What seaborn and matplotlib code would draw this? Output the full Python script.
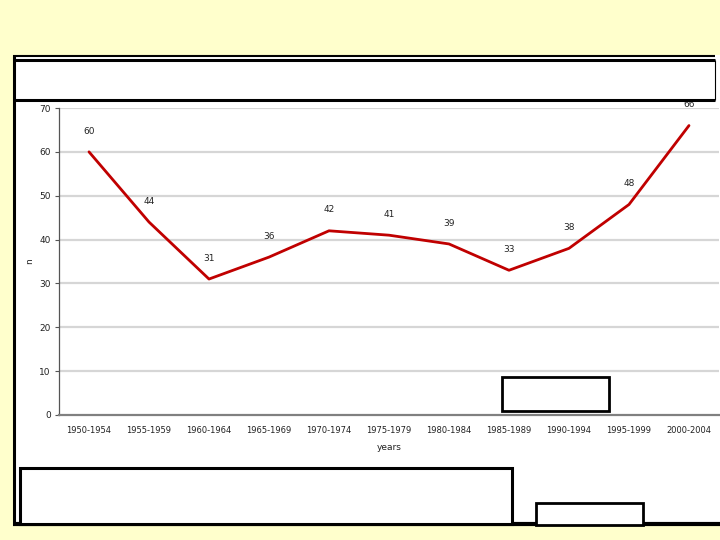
import matplotlib
matplotlib.use("Agg")
import matplotlib.pyplot as plt
from matplotlib.patches import Rectangle
from matplotlib.lines import Line2D
import seaborn as sns
import pandas as pd

periods = ["1950-1954", "1955-1959", "1960-1964", "1965-1969", "1970-1974",
           "1975-1979", "1980-1984", "1985-1989", "1990-1994", "1995-1999",
           "2000-2004"]
values = [60, 44, 31, 36, 42, 41, 39, 33, 38, 48, 66]
y_ticks = [0, 10, 20, 30, 40, 50, 60, 70]

sns.set_style("white")
plt.rcParams['font.family'] = ['DejaVu Sans']

W, H = 720, 540
fig = plt.figure(figsize=(7.2, 5.4), dpi=100, facecolor="#FFFFCC")

def fx(x):
    return x / W

def fy(y):
    return 1 - y / H

def rect(x0, y0, x1, y1, lw=2.0, fc="white", ec="black", z=1):
    fig.add_artist(Rectangle((fx(x0), fy(y1)), fx(x1) - fx(x0), fy(y0) - fy(y1),
                             transform=fig.transFigure, facecolor=fc,
                             edgecolor=ec, linewidth=lw, zorder=z))

def hline(x0, x1, y, lw=2.0, z=5):
    fig.add_artist(Line2D([fx(x0), fx(x1)], [fy(y), fy(y)], transform=fig.transFigure,
                          color="black", linewidth=lw, zorder=z,
                          solid_capstyle="butt"))

def vline(x, y0, y1, lw=2.0, z=5):
    fig.add_artist(Line2D([fx(x), fx(x)], [fy(y0), fy(y1)], transform=fig.transFigure,
                          color="black", linewidth=lw, zorder=z,
                          solid_capstyle="butt"))

# white panel
rect(13, 55, 722, 525, lw=0, fc="white", ec="none", z=0)
hline(12.5, 715, 55.5, lw=1.5)
hline(12.5, 715, 60, lw=2.2)
hline(12.5, 715, 100, lw=2.2)
vline(13.5, 55, 525, lw=2.2)
vline(715, 60, 100, lw=0.8)
hline(12.5, 722, 524, lw=3)

ax = fig.add_axes([fx(59), fy(415), fx(719) - fx(59), fy(108) - fy(415)])
ax.set_facecolor("none")
df = pd.DataFrame({"years": periods, "n": values})
sns.lineplot(data=df, x="years", y="n", ax=ax, color="#C00000", linewidth=2.0,
             sort=False, zorder=3)
ax.set_xlim(-0.5, len(periods) - 0.5)
ax.set_ylim(0, 70)
ax.set_yticks(y_ticks)
for t in y_ticks[1:]:
    ax.axhline(t, color="#D6D6D6", linewidth=1.6, zorder=1)

for i, v in enumerate(values):
    ax.annotate(str(v), (i, v), xytext=(0, 15), textcoords="offset points",
                ha="center", va="center", fontsize=6.5, color="#222222")

for s in ["top", "right"]:
    ax.spines[s].set_visible(False)
ax.spines["left"].set_color("#555555")
ax.spines["left"].set_linewidth(0.9)
ax.spines["bottom"].set_color("#808080")
ax.spines["bottom"].set_linewidth(1.6)

ax.set_xticks(range(len(periods)))
ax.set_xticklabels(periods)
ax.set_xticks([i - 0.5 for i in range(len(periods) + 1)], minor=True)
ax.tick_params(axis="x", which="major", length=0, pad=8, labelsize=6, labelcolor="#222222")
ax.tick_params(axis="x", which="minor", length=3, direction="out", color="#555555")
ax.tick_params(axis="y", which="major", length=3, direction="out", color="#555555",
               labelsize=6.5, labelcolor="#222222", pad=3, left=True)
ax.set_xlabel("years", fontsize=6.5, labelpad=6, color="#222222")
ax.set_ylabel("n", fontsize=6.5, color="#222222")
ax.yaxis.set_label_coords(-0.037, 0.5)

# overlay boxes
rect(502, 377, 609, 411, lw=2.0, z=10)
rect(19.5, 468, 512, 524, lw=2.2, z=10)
rect(536, 503, 643, 525, lw=2.0, z=10)

fig.savefig("out.png", dpi=100, facecolor=fig.get_facecolor())
